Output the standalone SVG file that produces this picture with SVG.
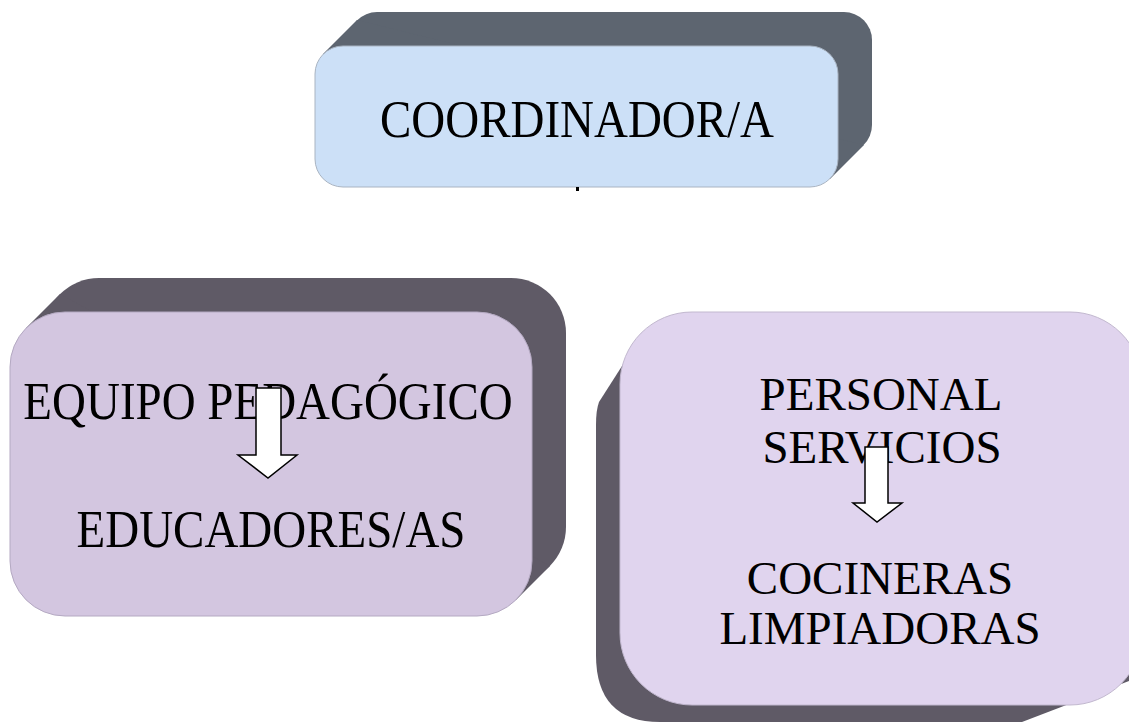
<svg xmlns="http://www.w3.org/2000/svg" width="1129" height="724" viewBox="0 0 1129 724">
<style>
.lbl{font-family:"Liberation Serif","Times New Roman",serif;font-size:47px;fill:#000;text-anchor:middle}
.sh-blue{fill:#5d6570}
.sh-purple{fill:#5f5a66}
.arrow{fill:#fff;stroke:#000;stroke-width:1.5;stroke-linejoin:miter}
</style>
<rect width="1129" height="724" fill="#fff"/>
<g id="node-coordinador">
  <rect class="sh-blue" x="349" y="12" width="523" height="141" rx="28"/>
  <polygon class="sh-blue" points="323,54 357,20 864,145 830,179"/>
  <rect x="315" y="46" width="523" height="141" rx="28" fill="#cce0f7" stroke="#a9b4c2" stroke-width="1"/>
  <text class="lbl" transform="translate(577,137) scale(1,1.12)">COORDINADOR/A</text>
</g>
<g id="node-equipo">
  <rect class="sh-purple" x="44" y="278" width="522" height="304" rx="55"/>
  <polygon class="sh-purple" points="26,328 60,294 550,566 516,600"/>
  <rect x="10" y="312" width="522" height="304" rx="55" fill="#d3c6e0" stroke="#b4a9c2" stroke-width="1"/>
  <text class="lbl" transform="translate(268,419) scale(1,1.12)">EQUIPO PEDAGÓGICO</text>
  <text class="lbl" transform="translate(271,547) scale(1,1.12)">EDUCADORES/AS</text>
</g>
<g id="node-personal">
  <path class="sh-purple" d="M645,330 L599,402 Q596,410 596,425 L596,655 Q596,722 660,722 L1022,722 L1129,681 L1129,600 Z"/>
  <rect x="620" y="312" width="522" height="393" rx="72" fill="#e0d4ee" stroke="#c2b8cf" stroke-width="1"/>
  <text class="lbl" x="881" y="410">PERSONAL</text>
  <text class="lbl" x="882" y="463">SERVICIOS</text>
  <text class="lbl" x="880" y="594">COCINERAS</text>
  <text class="lbl" x="880" y="644">LIMPIADORAS</text>
</g>
<g id="connectors">
  <rect x="576" y="187" width="3" height="4" fill="#000"/>
  <polygon class="arrow" points="256,388 281,388 281,455 297,455 268,478 238,455 256,455"/>
  <polygon class="arrow" points="865,447 888,447 888,503 902,503 877,522 853,503 865,503"/>
</g>
</svg>
